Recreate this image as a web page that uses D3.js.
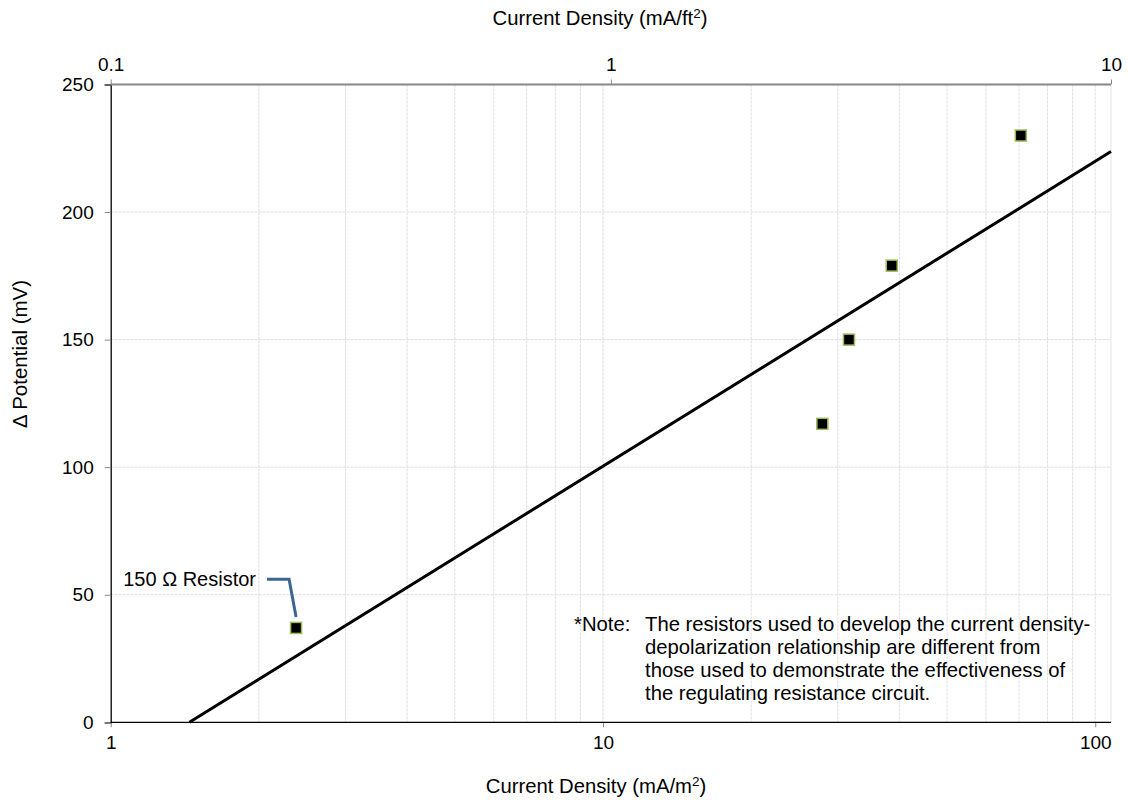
<!DOCTYPE html>
<html><head><meta charset="utf-8">
<script src="https://cdn.jsdelivr.net/npm/d3@7"></script>
<style>body{margin:0;background:#fff;} text{font-family:"Liberation Sans",Arial,sans-serif;fill:#000;}</style>
</head><body><svg id="c" width="1130" height="800"></svg>
<script>
// Data
const pointsX = [2.38, 27.9, 31.6, 38.6, 70.6];       // mA/m²
const pointsY = [37, 117, 150, 179, 230];              // mV
const trendX = [1.445, 107.64];
const trendY = [0, 223.7];
const yTicks = [0, 50, 100, 150, 200, 250];
const bottomTicks = [1, 10, 100];
const topTicks = [0.1, 1, 10];
const gridX = [2,3,4,5,6,7,8,9,10,20,30,40,50,60,70,80,90,100];
const noteLines = ["The resistors used to develop the current density-",
  "depolarization relationship are different from",
  "those used to demonstrate the effectiveness of",
  "the regulating resistance circuit."];

const svg = d3.select("#c");
const L = 110.7, R = 1111, T = 84.5, B = 722.3;
const FF = "Liberation Sans, Arial, sans-serif";
const x = d3.scaleLog().domain([1, 107.64]).range([L, R]);
const xTop = d3.scaleLog().domain([0.1, 10]).range([L, R]);
const y = d3.scaleLinear().domain([0, 250]).range([B, T]);

// gridlines
svg.append("g").selectAll("line").data(gridX).join("line")
  .attr("x1", d => x(d)).attr("x2", d => x(d)).attr("y1", T).attr("y2", B)
  .attr("stroke", "#dedede").attr("stroke-width", 1).attr("stroke-dasharray", "3,1");
svg.append("g").selectAll("line").data(yTicks.filter(d => d > 0 && d < 250)).join("line")
  .attr("x1", L).attr("x2", R).attr("y1", d => y(d)).attr("y2", d => y(d))
  .attr("stroke", "#dedede").attr("stroke-width", 1).attr("stroke-dasharray", "3,1");
svg.append("line").attr("x1", R).attr("x2", R).attr("y1", T).attr("y2", B).attr("stroke", "#e4e4e4");

// y axis
const yAxis = d3.axisLeft(y).tickValues(yTicks).tickSize(6).tickPadding(11);
const gy = svg.append("g").attr("transform", `translate(${L},0)`).call(yAxis);
gy.select(".domain").attr("stroke", "#000").attr("stroke-width", 1.3);
gy.selectAll(".tick line").attr("stroke", "#888");
gy.selectAll(".tick text").attr("font-size", 19).attr("font-family", FF);

// bottom axis
const xAxis = d3.axisBottom(x).tickValues(bottomTicks).tickFormat(d3.format("d")).tickSize(5).tickPadding(8);
const gx = svg.append("g").attr("transform", `translate(0,${B})`).call(xAxis);
gx.select(".domain").remove();
gx.selectAll(".tick line").attr("stroke", "#888");
gx.selectAll(".tick text").attr("font-size", 19).attr("font-family", FF);
svg.append("line").attr("x1", L).attr("x2", R).attr("y1", B).attr("y2", B).attr("stroke", "#000").attr("stroke-width", 1.3);

// top axis
const xAxisTop = d3.axisTop(xTop).tickValues(topTicks).tickFormat(d => d < 1 ? "0.1" : d3.format("d")(d)).tickSize(5).tickPadding(9);
const gt = svg.append("g").attr("transform", `translate(0,${T})`).call(xAxisTop);
gt.select(".domain").remove();
gt.selectAll(".tick line").attr("stroke", "#888");
gt.selectAll(".tick text").attr("font-size", 19).attr("font-family", FF);
svg.append("line").attr("x1", L).attr("x2", R).attr("y1", T).attr("y2", T).attr("stroke", "#888").attr("stroke-width", 2);

// trend line
svg.append("line")
  .attr("x1", x(trendX[0])).attr("y1", y(trendY[0]))
  .attr("x2", x(trendX[1])).attr("y2", y(trendY[1]))
  .attr("stroke", "#000").attr("stroke-width", 3);

// points
const pts = pointsX.map((v, i) => ({x: v, y: pointsY[i]}));
svg.append("g").selectAll("rect").data(pts).join("rect")
  .attr("x", d => x(d.x) - 5.5).attr("y", d => y(d.y) - 5.5)
  .attr("width", 11).attr("height", 11)
  .attr("fill", "#000").attr("stroke", "#9bbb59").attr("stroke-width", 1.5);

// annotation
const ax = x(pointsX[0]), ay = y(pointsY[0]);
svg.append("path")
  .attr("d", `M${ax - 29},${579.3} L${ax - 7},${579.3} L${ax},${ay - 11}`)
  .attr("fill", "none").attr("stroke", "#3c6591").attr("stroke-width", 3);
svg.append("text").attr("x", 256).attr("y", 586).attr("text-anchor", "end")
  .attr("font-size", 20).text("150 Ω Resistor");

// note
svg.append("text").attr("x", 574).attr("y", 631).attr("font-size", 20.3).text("*Note:");
svg.append("g").selectAll("text").data(noteLines).join("text")
  .attr("x", 645).attr("y", (d, i) => 631 + i * 23).attr("font-size", 20.3).text(d => d);

// titles
function title(sel, main) {
  sel.append("tspan").text(main);
  sel.append("tspan").attr("font-size", 13.5).attr("dy", -7).text("2");
  sel.append("tspan").attr("dy", 7).text(")");
}
title(svg.append("text").attr("x", 596).attr("y", 793).attr("text-anchor", "middle").attr("font-size", 20.3), "Current Density (mA/m");
title(svg.append("text").attr("x", 600).attr("y", 25).attr("text-anchor", "middle").attr("font-size", 20.3), "Current Density (mA/ft");
svg.append("text").attr("transform", "translate(27,354) rotate(-90)").attr("text-anchor", "middle")
  .attr("font-size", 20.5).text("Δ Potential (mV)");
</script></body></html>
